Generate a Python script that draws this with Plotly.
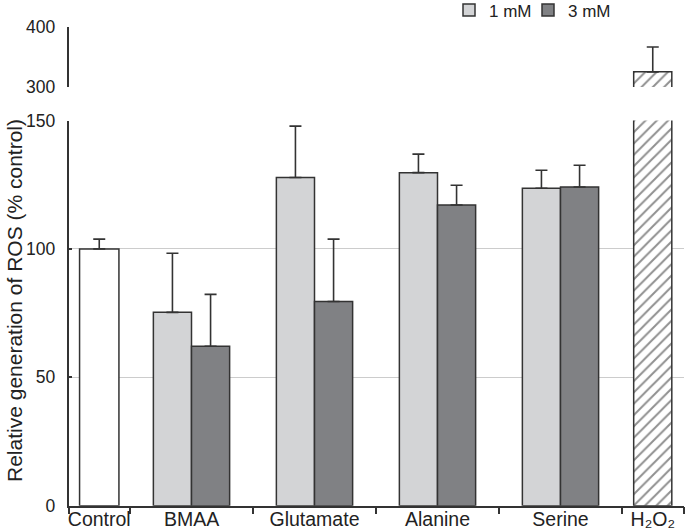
import plotly.graph_objects as go

# ---- data ----
groups = ["BMAA", "Glutamate", "Alanine", "Serine"]
vals_1mM = [75.3, 127.8, 129.7, 123.6]
err_1mM = [23.0, 20.0, 7.2, 7.0]
vals_3mM = [62.1, 79.5, 117.1, 124.1]
err_3mM = [20.2, 24.3, 7.7, 8.5]
control_val = [100.0]
control_err = [3.8]
h2o2_val = [325.0]
h2o2_err = [41.0]
tick_labels = ["Control", "BMAA", "Glutamate", "Alanine", "Serine", "H\u2082O\u2082"]

# ---- layout positions (x axis units) ----
W, H = 685, 530
ctrl_pos = [0.25]
grp_pos = [1.0, 2.0, 3.0, 4.0]
h2o2_pos = [4.75]
bw = 0.31
off = bw / 2
boundaries = [0, 0.5, 1.5, 2.5, 3.5, 4.5, 5]

LIGHT = "#d3d4d6"
DARK = "#808184"
EDGE = "#333333"
GRID = "#cccccc"
FONT = "Liberation Sans, Arial, sans-serif"

def eb(arr):
    return dict(type="data", array=arr, arrayminus=[0] * len(arr), symmetric=False,
                color=EDGE, thickness=1.6, width=6)

fig = go.Figure()
fig.add_trace(go.Bar(x=ctrl_pos, y=control_val, width=0.32, marker=dict(color="white", line=dict(color=EDGE, width=1.5)),
                     error_y=eb(control_err), showlegend=False, xaxis="x", yaxis="y"))
fig.add_trace(go.Bar(x=[p - off for p in grp_pos], y=vals_1mM, width=bw, name="1 mM",
                     marker=dict(color=LIGHT, line=dict(color=EDGE, width=1.5)),
                     error_y=eb(err_1mM), xaxis="x", yaxis="y", legend="legend"))
fig.add_trace(go.Bar(x=[p + off for p in grp_pos], y=vals_3mM, width=bw, name="3 mM",
                     marker=dict(color=DARK, line=dict(color=EDGE, width=1.5)),
                     error_y=eb(err_3mM), xaxis="x", yaxis="y", legend="legend2"))
hatch = dict(color="white", line=dict(color=EDGE, width=1.5),
             pattern=dict(shape="/", fgcolor="#222222", bgcolor="white", size=8, solidity=0.25))
fig.add_trace(go.Bar(x=h2o2_pos, y=h2o2_val, width=bw, marker=hatch, showlegend=False,
                     xaxis="x", yaxis="y"))
fig.add_trace(go.Bar(x=h2o2_pos, y=h2o2_val, width=bw, marker=hatch, showlegend=False,
                     error_y=eb(h2o2_err), xaxis="x2", yaxis="y2"))

x_dom = [68.5 / W, 683.5 / W]
y_dom_bot = [(H - 505.7) / H, (H - 120.5) / H]
y_dom_top = [(H - 87) / H, (H - 26.5) / H]

leg_common = dict(orientation="h", xanchor="left", yanchor="middle", y=(H - 10.5) / H,
                  font=dict(size=17, color="#222222"), bgcolor="rgba(0,0,0,0)", itemwidth=30)

fig.update_layout(
    width=W, height=H,
    margin=dict(l=0, r=0, t=0, b=0, autoexpand=False),
    paper_bgcolor="white", plot_bgcolor="white",
    barmode="overlay",
    font=dict(family=FONT, color="#222222"),
    xaxis=dict(domain=x_dom, range=[0, 5], tickvals=ctrl_pos + grp_pos + h2o2_pos, ticktext=tick_labels,
               ticks="", showgrid=False, zeroline=False, showline=True, linecolor=EDGE, linewidth=1.5,
               tickfont=dict(size=19.5, color="#222222"), ticklabelstandoff=-5, automargin=False,
               minor=dict(tickvals=boundaries, ticks="outside", ticklen=7, tickcolor=EDGE, tickwidth=1.5, showgrid=False)),
    xaxis2=dict(domain=x_dom, range=[0, 5], anchor="y2", matches="x", visible=False, automargin=False),
    yaxis=dict(domain=y_dom_bot, range=[0, 150], tickvals=[0, 50, 100, 150], ticks="inside", ticklen=4,
               tickcolor=EDGE, tickwidth=1.5, showgrid=True, gridcolor=GRID, gridwidth=1.3, zeroline=False,
               showline=True, linecolor=EDGE, linewidth=1.5, tickfont=dict(size=17.5, color="#222222"),
               ticklabelstandoff=8, automargin=False),
    yaxis2=dict(domain=y_dom_top, range=[300, 400], anchor="x2", tickvals=[300, 400], ticks="inside", ticklen=4,
                tickcolor=EDGE, tickwidth=1.5, showgrid=True, gridcolor=GRID, gridwidth=1.3, zeroline=False,
                showline=True, linecolor=EDGE, linewidth=1.5, tickfont=dict(size=17.5, color="#222222"),
                ticklabelstandoff=8, automargin=False),
    legend=dict(x=449 / W, **leg_common),
    legend2=dict(x=528 / W, **leg_common),
    annotations=[dict(text="Relative generation of ROS (% control)", textangle=-90, xref="paper", yref="paper",
                      x=14 / W, y=(H - 301) / H, xanchor="center", yanchor="middle", showarrow=False,
                      font=dict(size=21, color="#222222"))],
)

fig.write_html("out.html", config={"displayModeBar": False},
               post_script="document.body.style.margin='0';document.body.style.overflow='hidden';")
